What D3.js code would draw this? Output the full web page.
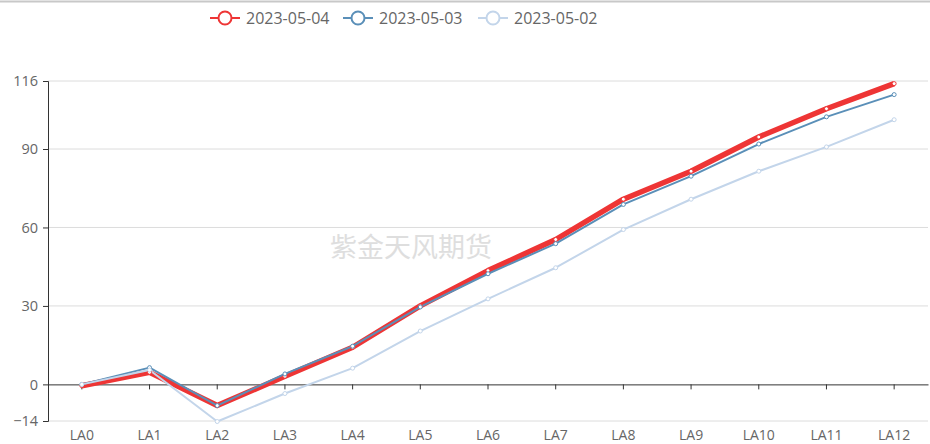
<!DOCTYPE html>
<html>
<head>
<meta charset="utf-8">
<script src="https://cdn.jsdelivr.net/npm/d3@7"></script>
<style>
  body { margin: 0; background: #fff; }
  text { font-family: "Open Sans", "Noto Sans", sans-serif; }
</style>
</head>
<body>
<div class="canvas"></div>
<script>
const categories = ['LA0', 'LA1', 'LA2', 'LA3', 'LA4', 'LA5', 'LA6', 'LA7', 'LA8', 'LA9', 'LA10', 'LA11', 'LA12'];
const seriesNames = ['2023-05-04', '2023-05-03', '2023-05-02'];
const may04 = [-0.5, 4.6, -8.1, 3.1, 14.2, 30, 43.5, 55.4, 70.8, 81.5, 94.6, 105.4, 115];
const may03 = [0, 6.4, -8.1, 4, 14.6, 29.6, 42.3, 53.8, 68.8, 79.6, 91.9, 102.3, 110.8];
const may02 = [0, 5.5, -14.2, -3.5, 6.2, 20.4, 32.7, 44.6, 59.2, 70.8, 81.5, 90.8, 101.2];
const yTicks = [-14, 0, 30, 60, 90, 116];

const colors = ['#ee3535', '#5a8fb8', '#c3d5ea'];
const widths = [5.5, 2, 2];
const seriesData = [may04, may03, may02];

const width = 930, height = 444;
const margins = { top: 81, right: 2, bottom: 23, left: 48 };
const graphWidth = width - margins.left - margins.right;
const graphHeight = height - margins.top - margins.bottom;

const svg = d3.select('.canvas')
    .append('svg')
    .attr('width', width)
    .attr('height', height);

// top border line
svg.append('line')
    .attr('x1', 0).attr('x2', width)
    .attr('y1', 1.5).attr('y2', 1.5)
    .attr('stroke', '#c8c8c8').attr('stroke-width', 2);

const graph = svg.append('g')
    .attr('transform', `translate(${margins.left}, ${margins.top})`);

const x = d3.scaleBand()
    .domain(categories)
    .range([0, graphWidth]);

const y = d3.scaleLinear()
    .domain([-14, 116])
    .range([graphHeight, 0]);

const cx = d => x(d) + x.bandwidth() / 2;

// gridlines
graph.append('g')
    .selectAll('line')
    .data(yTicks.filter(t => t !== 0))
    .enter()
    .append('line')
    .attr('x1', 0).attr('x2', graphWidth)
    .attr('y1', d => y(d)).attr('y2', d => y(d))
    .attr('stroke', '#dcdcdc');

// watermark
graph.append('text')
    .attr('x', 411 - margins.left)
    .attr('y', 257 - margins.top)
    .attr('text-anchor', 'middle')
    .attr('fill', '#dedede')
    .attr('font-size', 27)
    .style('font-family', '"Noto Sans CJK SC", sans-serif')
    .text('紫金天风期货');

// y axis
const yAxis = d3.axisLeft(y).tickValues(yTicks).tickSize(5).tickPadding(5);
const yAxisGroup = graph.append('g').call(yAxis);
yAxisGroup.select('.domain').attr('stroke', '#333');
yAxisGroup.selectAll('.tick line').attr('stroke', '#333');
yAxisGroup.selectAll('text')
    .attr('fill', '#666')
    .attr('font-size', 14.5)
    .style('font-family', '"Open Sans", sans-serif');

// x axis at zero
const xAxis = d3.axisBottom(x).tickSize(5).tickSizeOuter(0).tickFormat(() => '');
const xAxisGroup = graph.append('g')
    .attr('transform', `translate(0, ${y(0)})`)
    .call(xAxis);
xAxisGroup.select('.domain').attr('stroke', '#333');
xAxisGroup.selectAll('.tick line').attr('stroke', '#333');

// x labels at bottom
graph.append('g')
    .selectAll('text')
    .data(categories)
    .enter()
    .append('text')
    .attr('x', d => cx(d))
    .attr('y', graphHeight + 19)
    .attr('text-anchor', 'middle')
    .attr('fill', '#666')
    .attr('font-size', 14)
    .text(d => d);

// lines
const line = d3.line()
    .x((d, i) => cx(categories[i]))
    .y(d => y(d));

seriesData.forEach((vals, s) => {
    graph.append('path')
        .datum(vals)
        .attr('d', line)
        .attr('fill', 'none')
        .attr('stroke', colors[s])
        .attr('stroke-width', widths[s])
        .attr('stroke-linejoin', 'round');
});

seriesData.forEach((vals, s) => {
    graph.append('g')
        .selectAll('circle')
        .data(vals)
        .enter()
        .append('circle')
        .attr('cx', (d, i) => cx(categories[i]))
        .attr('cy', d => y(d))
        .attr('r', 2)
        .attr('fill', '#fff')
        .attr('stroke', colors[s])
        .attr('stroke-width', 1);
});

// legend
const legendX = [210, 343, 478];
const legend = svg.append('g');
seriesNames.forEach((name, i) => {
    const g = legend.append('g').attr('transform', `translate(${legendX[i]}, 18)`);
    g.append('line')
        .attr('x1', 0).attr('x2', 30)
        .attr('stroke', colors[i]).attr('stroke-width', 2);
    g.append('circle')
        .attr('cx', 15).attr('r', 6.5)
        .attr('fill', '#fff')
        .attr('stroke', colors[i]).attr('stroke-width', 2);
    g.append('text')
        .attr('x', 36).attr('y', 5.5)
        .attr('fill', '#666')
        .attr('font-size', 16)
        .text(name);
});
</script>
</body>
</html>
